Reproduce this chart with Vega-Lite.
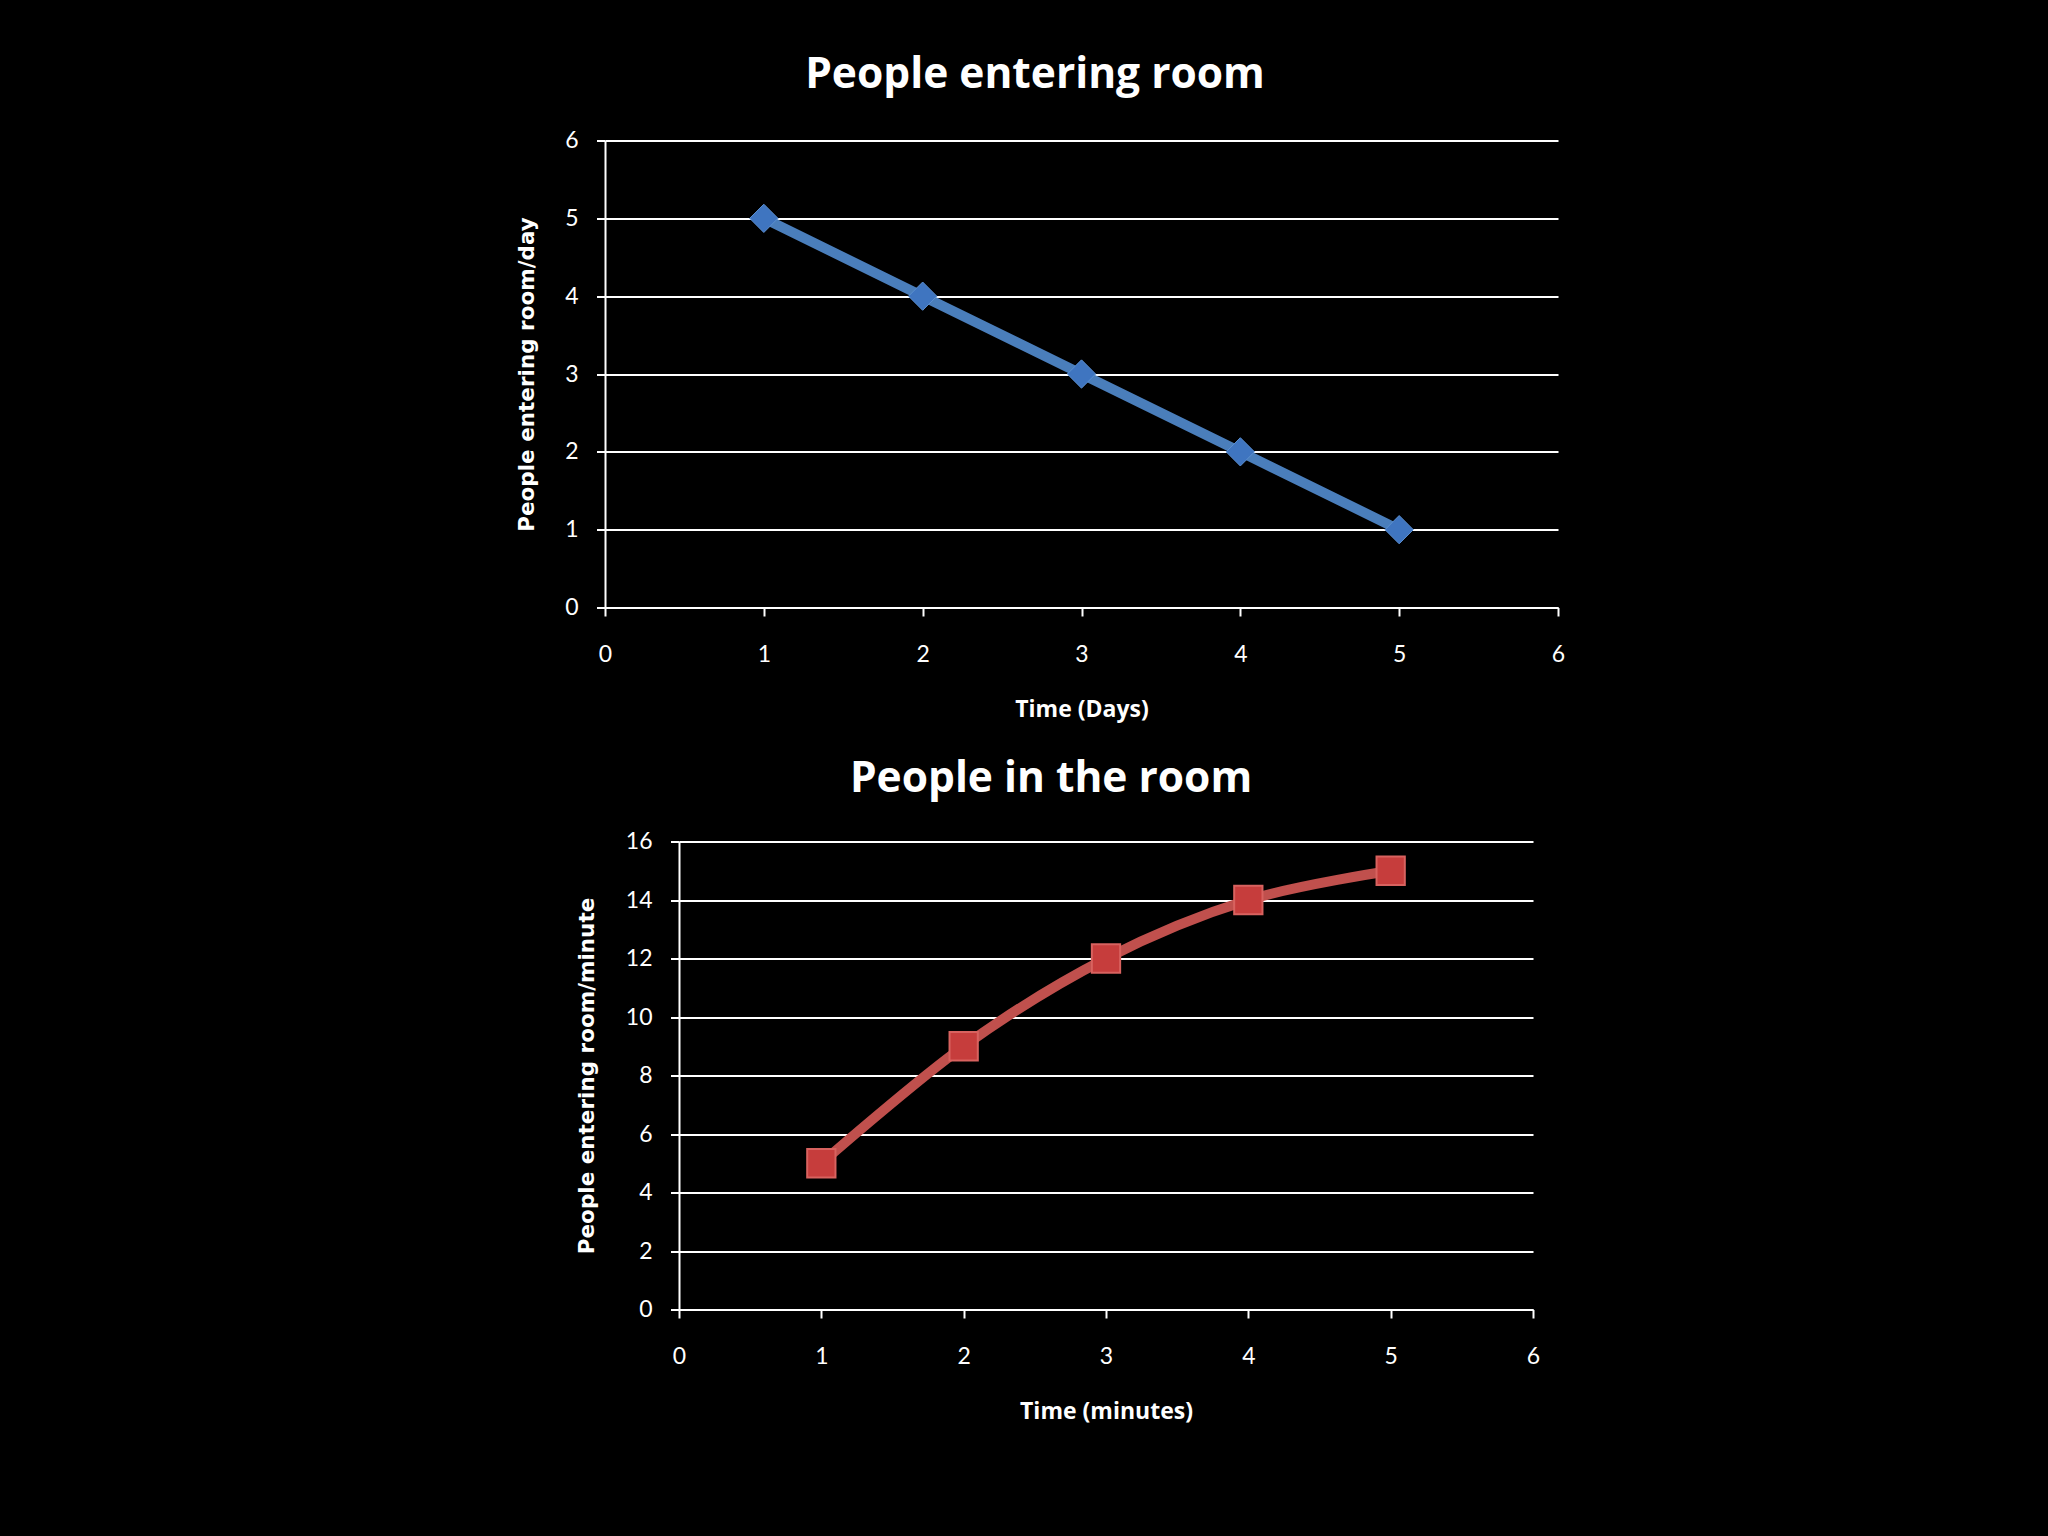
{
  "$schema": "https://vega.github.io/schema/vega-lite/v6.json",
  "background": "#000000",
  "padding": {"left": 516, "top": 53.5, "right": 483, "bottom": 113},
  "bounds": "flush",
  "spacing": 234,
  "config": {
    "view": {"stroke": null},
    "font": "Lato",
    "title": {
      "color": "#ffffff",
      "font": "Open Sans",
      "fontSize": 42.5,
      "fontWeight": "bold",
      "baseline": "alphabetic",
      "anchor": "middle",
      "frame": "group"
    },
    "axis": {
      "domainColor": "#ffffff",
      "domainWidth": 2,
      "tickColor": "#ffffff",
      "tickWidth": 2,
      "tickSize": 8.5,
      "gridColor": "#ffffff",
      "gridWidth": 2,
      "labelColor": "#ffffff",
      "labelFont": "Lato",
      "labelFontSize": 23,
      "labelFlush": false,
      "titleColor": "#ffffff"
    },
    "axisX": {
      "grid": false,
      "labelPadding": 45.5,
      "labelBaseline": "alphabetic",
      "titleFont": "Open Sans",
      "titleFontSize": 23,
      "titleFontWeight": "bold",
      "titleBaseline": "alphabetic",
      "titleY": 108.5
    },
    "axisY": {
      "grid": true,
      "labelPadding": 18.5,
      "titleFont": "DejaVu Sans",
      "titleFontSize": 21.5,
      "titleFontWeight": "bold",
      "titleBaseline": "alphabetic"
    }
  },
  "vconcat": [
    {
      "width": 953,
      "height": 467,
      "title": {"text": "People entering room", "dx": -46.5, "offset": 33},
      "data": {
        "values": [
          {"day": 1, "people": 5},
          {"day": 2, "people": 4},
          {"day": 3, "people": 3},
          {"day": 4, "people": 2},
          {"day": 5, "people": 1}
        ]
      },
      "mark": {
        "type": "line",
        "color": "#4a7ebb",
        "strokeWidth": 10,
        "point": {"shape": "diamond", "size": 800, "filled": true, "fill": "#3f75c0", "stroke": "#5b8fd0", "strokeWidth": 1}
      },
      "encoding": {
        "x": {
          "field": "day",
          "type": "quantitative",
          "title": "Time (Days)",
          "scale": {"domain": [0, 6], "nice": false},
          "axis": {"values": [0, 1, 2, 3, 4, 5, 6]}
        },
        "y": {
          "field": "people",
          "type": "quantitative",
          "title": "People entering room/day",
          "scale": {"domain": [0, 6], "nice": false},
          "axis": {"values": [0, 1, 2, 3, 4, 5, 6], "titleX": -71.5}
        }
      }
    },
    {
      "spacing": 0,
      "bounds": "flush",
      "hconcat": [
        {
          "width": 74,
          "height": 10,
          "data": {"values": []},
          "mark": "point",
          "encoding": {}
        },
        {
          "width": 854,
          "height": 468,
          "title": {"text": "People in the room", "dx": -55, "offset": 30},
          "data": {
            "values": [
              {"minute": 1, "people": 5},
              {"minute": 2, "people": 9},
              {"minute": 3, "people": 12},
              {"minute": 4, "people": 14},
              {"minute": 5, "people": 15}
            ]
          },
          "mark": {
            "type": "line",
            "color": "#c0504d",
            "strokeWidth": 10,
            "interpolate": "cardinal",
            "point": {"shape": "square", "size": 800, "filled": true, "fill": "#c63d3c", "stroke": "#d8625f", "strokeWidth": 2}
          },
          "encoding": {
            "x": {
              "field": "minute",
              "type": "quantitative",
              "title": "Time (minutes)",
              "scale": {"domain": [0, 6], "nice": false},
              "axis": {"values": [0, 1, 2, 3, 4, 5, 6]}
            },
            "y": {
              "field": "people",
              "type": "quantitative",
              "title": "People entering room/minute",
              "scale": {"domain": [0, 16], "nice": false},
              "axis": {"values": [0, 2, 4, 6, 8, 10, 12, 14, 16], "titleX": -86}
            }
          }
        }
      ]
    }
  ]
}
